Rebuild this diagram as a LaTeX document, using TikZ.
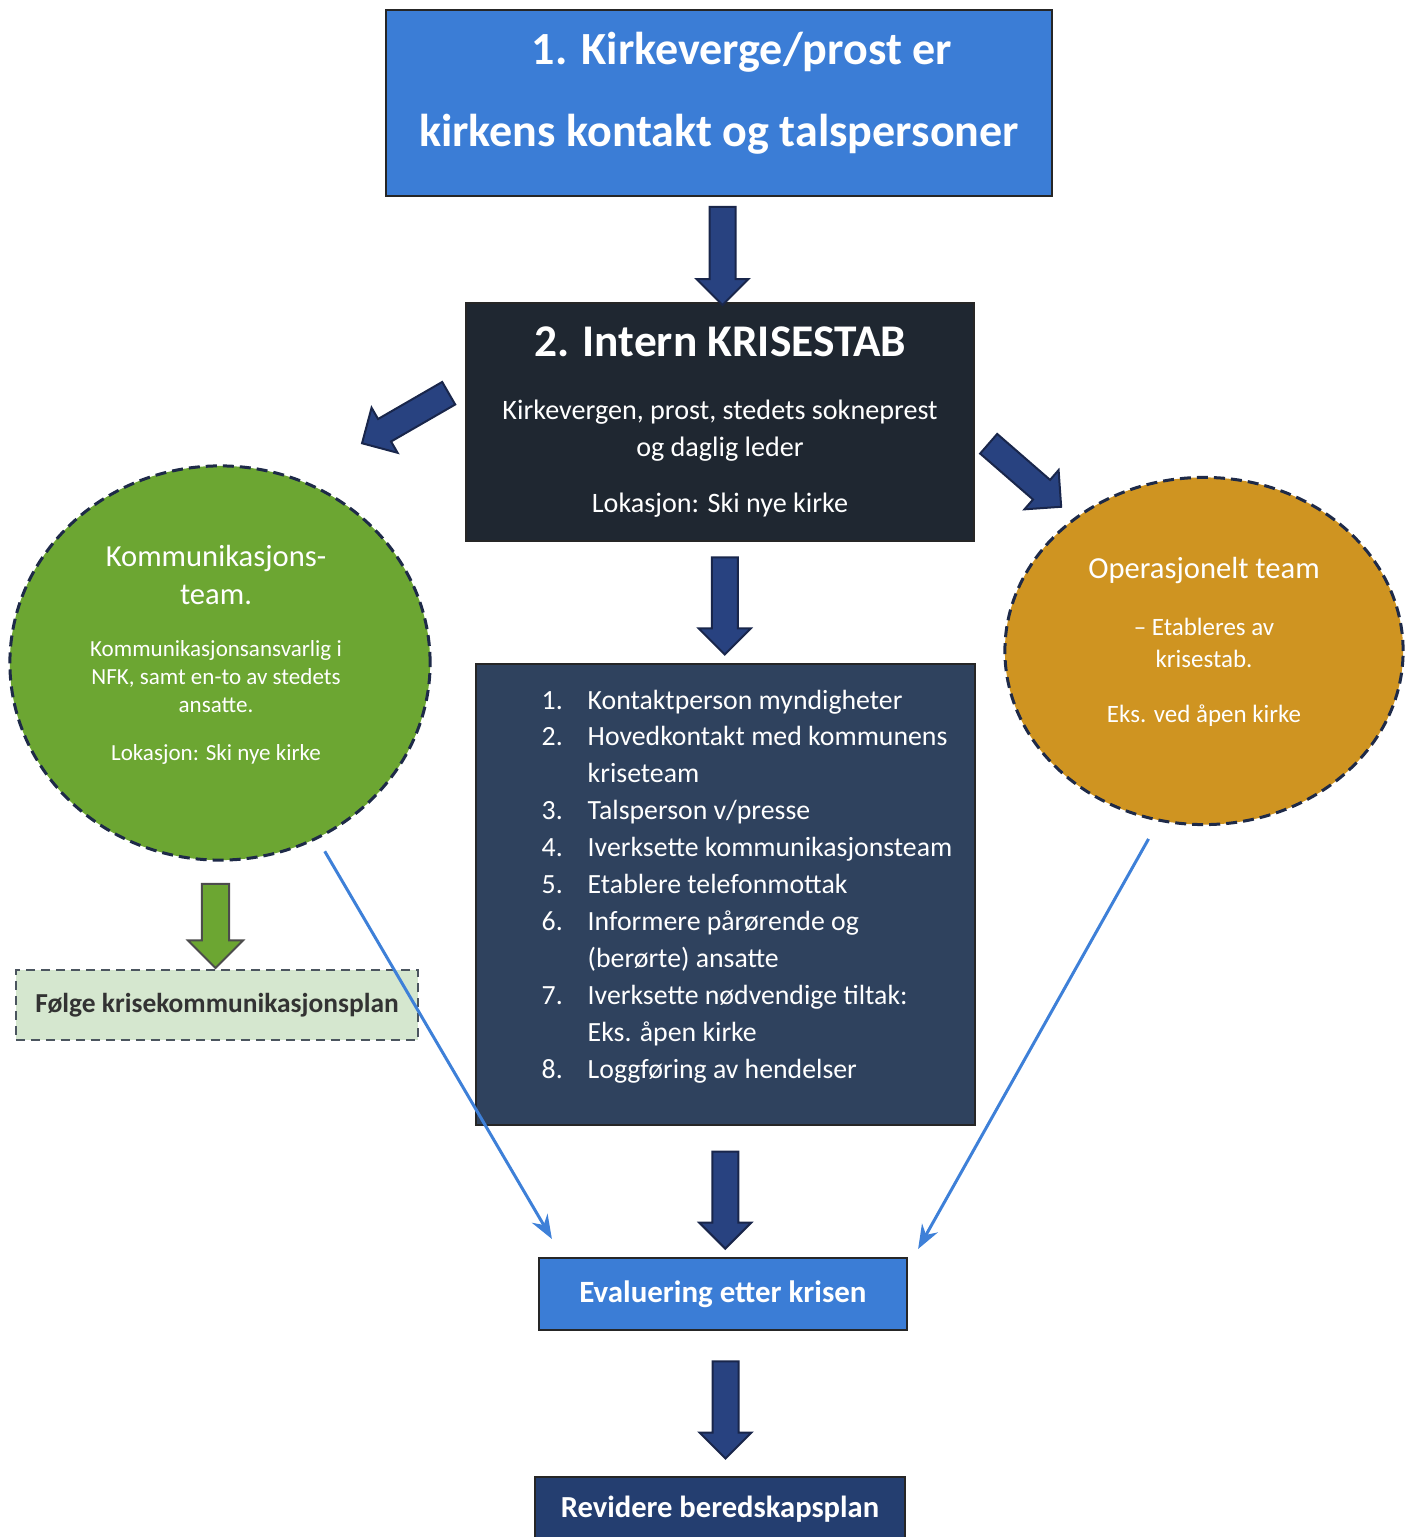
\documentclass[tikz,border=0pt]{standalone}
\usepackage{fontspec}
\setmainfont{Carlito}
\usetikzlibrary{shapes.geometric,shapes.arrows,arrows.meta,calc}

\definecolor{stageblue}{RGB}{59,125,214}
\definecolor{stabdark}{RGB}{31,39,49}
\definecolor{listslate}{RGB}{47,66,94}
\definecolor{arrownavy}{RGB}{40,66,128}
\definecolor{arrowedge}{RGB}{25,38,75}
\definecolor{teamgreen}{RGB}{108,166,50}
\definecolor{teamorange}{RGB}{207,148,33}
\definecolor{teamedge}{RGB}{30,42,72}
\definecolor{planfill}{RGB}{213,231,207}
\definecolor{planedge}{RGB}{75,85,95}
\definecolor{revnavy}{RGB}{36,62,112}
\definecolor{lineblue}{RGB}{62,128,216}

\newcommand*{\titlefont}{\fontsize{13.1pt}{23.3pt}\selectfont\bfseries}
\newcommand*{\headfont}{\fontsize{12.9pt}{10.5pt}\selectfont\bfseries}
\newcommand*{\bodyfont}{\fontsize{8pt}{10.5pt}\selectfont}
\newcommand*{\listfont}{\fontsize{7.9pt}{10.5pt}\selectfont}
\newcommand*{\teamfont}{\fontsize{8.7pt}{10pt}\selectfont}
\newcommand*{\listno}[1]{\makebox[4.6mm][l]{#1}}

\begin{document}
\begin{tikzpicture}
[
	x=0.01cm, y=0.01cm,
	box/.style={rectangle,draw=black!85,line width=0.2mm,inner sep=0pt,align=center,text=white},
	team/.style={ellipse,draw=teamedge,line width=0.3mm,dash pattern=on 1.1mm off 0.6mm,inner sep=0pt},
	teamtext/.style={align=center,text=white,inner sep=0pt},
	blockarrow/.style={single arrow,single arrow head extend=1.3mm,inner xsep=0pt,inner ysep=1.2mm,line width=0.2mm,draw=arrowedge,fill=arrownavy,rotate=-90},
	thinarrow/.style={draw=lineblue,line width=0.3mm,-{Stealth[length=2.4mm,width=1.8mm]}}
]

	\useasboundingbox (0,0) rectangle (1409,-1537);

	% stage boxes
	\node[box,fill=stageblue,minimum width=66.6mm,minimum height=18.6mm,font=\titlefont] (stage1) at (719,-103)
		{\hspace*{4.6mm}1. Kirkeverge/prost er\\kirkens kontakt og talspersoner\rule[-8pt]{0pt}{0pt}};
	\node[box,fill=stabdark,minimum width=50.8mm,minimum height=23.8mm,font=\bodyfont] (stab) at (720,-422)
		{{\headfont 2. Intern KRISESTAB}\\[7.4pt]Kirkevergen, prost, stedets sokneprest\\og daglig leder\\[5.6pt]Lokasjon: Ski nye kirke};
	\node[box,fill=listslate,minimum width=49.9mm,minimum height=46.1mm] (tasks) at (725.5,-894.5) {};
	\node[align=left,anchor=north west,inner sep=0pt,text=white,font=\listfont] (tasklist) at (541,-689)
		{\listno{1.}Kontaktperson myndigheter\\
		\listno{2.}Hovedkontakt med kommunens\\
		\hspace*{4.6mm}kriseteam\\
		\listno{3.}Talsperson v/presse\\
		\listno{4.}Iverksette kommunikasjonsteam\\
		\listno{5.}Etablere telefonmottak\\
		\listno{6.}Informere pårørende og\\
		\hspace*{4.6mm}(berørte) ansatte\\
		\listno{7.}Iverksette nødvendige tiltak:\\
		\hspace*{4.6mm}Eks. åpen kirke\\
		\listno{8.}Loggføring av hendelser};
	\node[box,fill=stageblue,minimum width=36.8mm,minimum height=7.2mm,font=\fontsize{8.8pt}{10pt}\selectfont\bfseries] (eval) at (723,-1294)
		{Evaluering etter krisen};
	\node[box,fill=revnavy,minimum width=37mm,minimum height=8mm,font=\fontsize{8.7pt}{10pt}\selectfont\bfseries] (revise) at (720,-1517)
		{Revidere beredskapsplan\rule[-6pt]{0pt}{0pt}};

	% teams
	\node[team,fill=teamgreen,minimum width=42mm,minimum height=39.4mm] (comteam) at (220,-663) {};
	\node[teamtext,font=\fontsize{6.55pt}{8pt}\selectfont] (comtext) at (216,-655)
		{{\teamfont Kommunikasjons-}\\[2.8pt]{\teamfont team.}\\[6.6pt]Kommunikasjonsansvarlig i\\NFK, samt en-to av stedets\\ansatte.\\[5.7pt]Lokasjon: Ski nye kirke};
	\node[team,fill=teamorange,minimum width=39.8mm,minimum height=34.7mm] (opteam) at (1204,-651) {};
	\node[teamtext,font=\fontsize{7.1pt}{9.1pt}\selectfont] (optext) at (1204,-642)
		{{\teamfont Operasjonelt team}\\[7.2pt]-- Etableres av\\krisestab.\\[6.5pt]Eks. ved åpen kirke};

	\node[rectangle,draw=planedge,fill=planfill,line width=0.25mm,dash pattern=on 0.9mm off 0.6mm,
		minimum width=40.2mm,minimum height=7mm,text=black!80,font=\fontsize{7.8pt}{9pt}\selectfont\bfseries] (plan) at (217,-1005)
		{Følge krisekommunikasjonsplan};

	% block arrows
	\node[blockarrow,minimum height=9.8mm] (arr1) at ($(stage1.south)!0.5!(stab.north)+(3,0)$) {};
	\node[blockarrow,minimum height=9.7mm] (arr2) at ($(stab.south)!0.5!(tasks.north)+(2,3)$) {};
	\node[blockarrow,minimum height=9.7mm] (arr3) at ($(tasks.south)!0.5!(eval.north)+(1,-2)$) {};
	\node[blockarrow,minimum height=9.7mm] (arr4) at ($(eval.south)!0.5!(revise.north)+(4,0)$) {};
	\node[blockarrow,minimum height=10mm,rotate=-60] (arrleft) at (411,-415) {};
	\node[blockarrow,minimum height=9.6mm,rotate=49] (arrright) at (1020,-471) {};
	\node[blockarrow,minimum height=8.4mm,inner ysep=1.25mm,single arrow head extend=1.4mm,fill=teamgreen,draw=black!70] (arrplan)
		at ($(comteam.south)!0.5!(plan.north)+(-3,-4)$) {};

	% evaluation links
	\draw[thinarrow,shorten <=1.4mm] (comteam.-61) -- ([shift={(14,18)}]eval.north west);
	\draw[thinarrow,shorten <=2mm] (opteam.-105) -- ([shift={(10,8)}]eval.north east);

\end{tikzpicture}
\end{document}
